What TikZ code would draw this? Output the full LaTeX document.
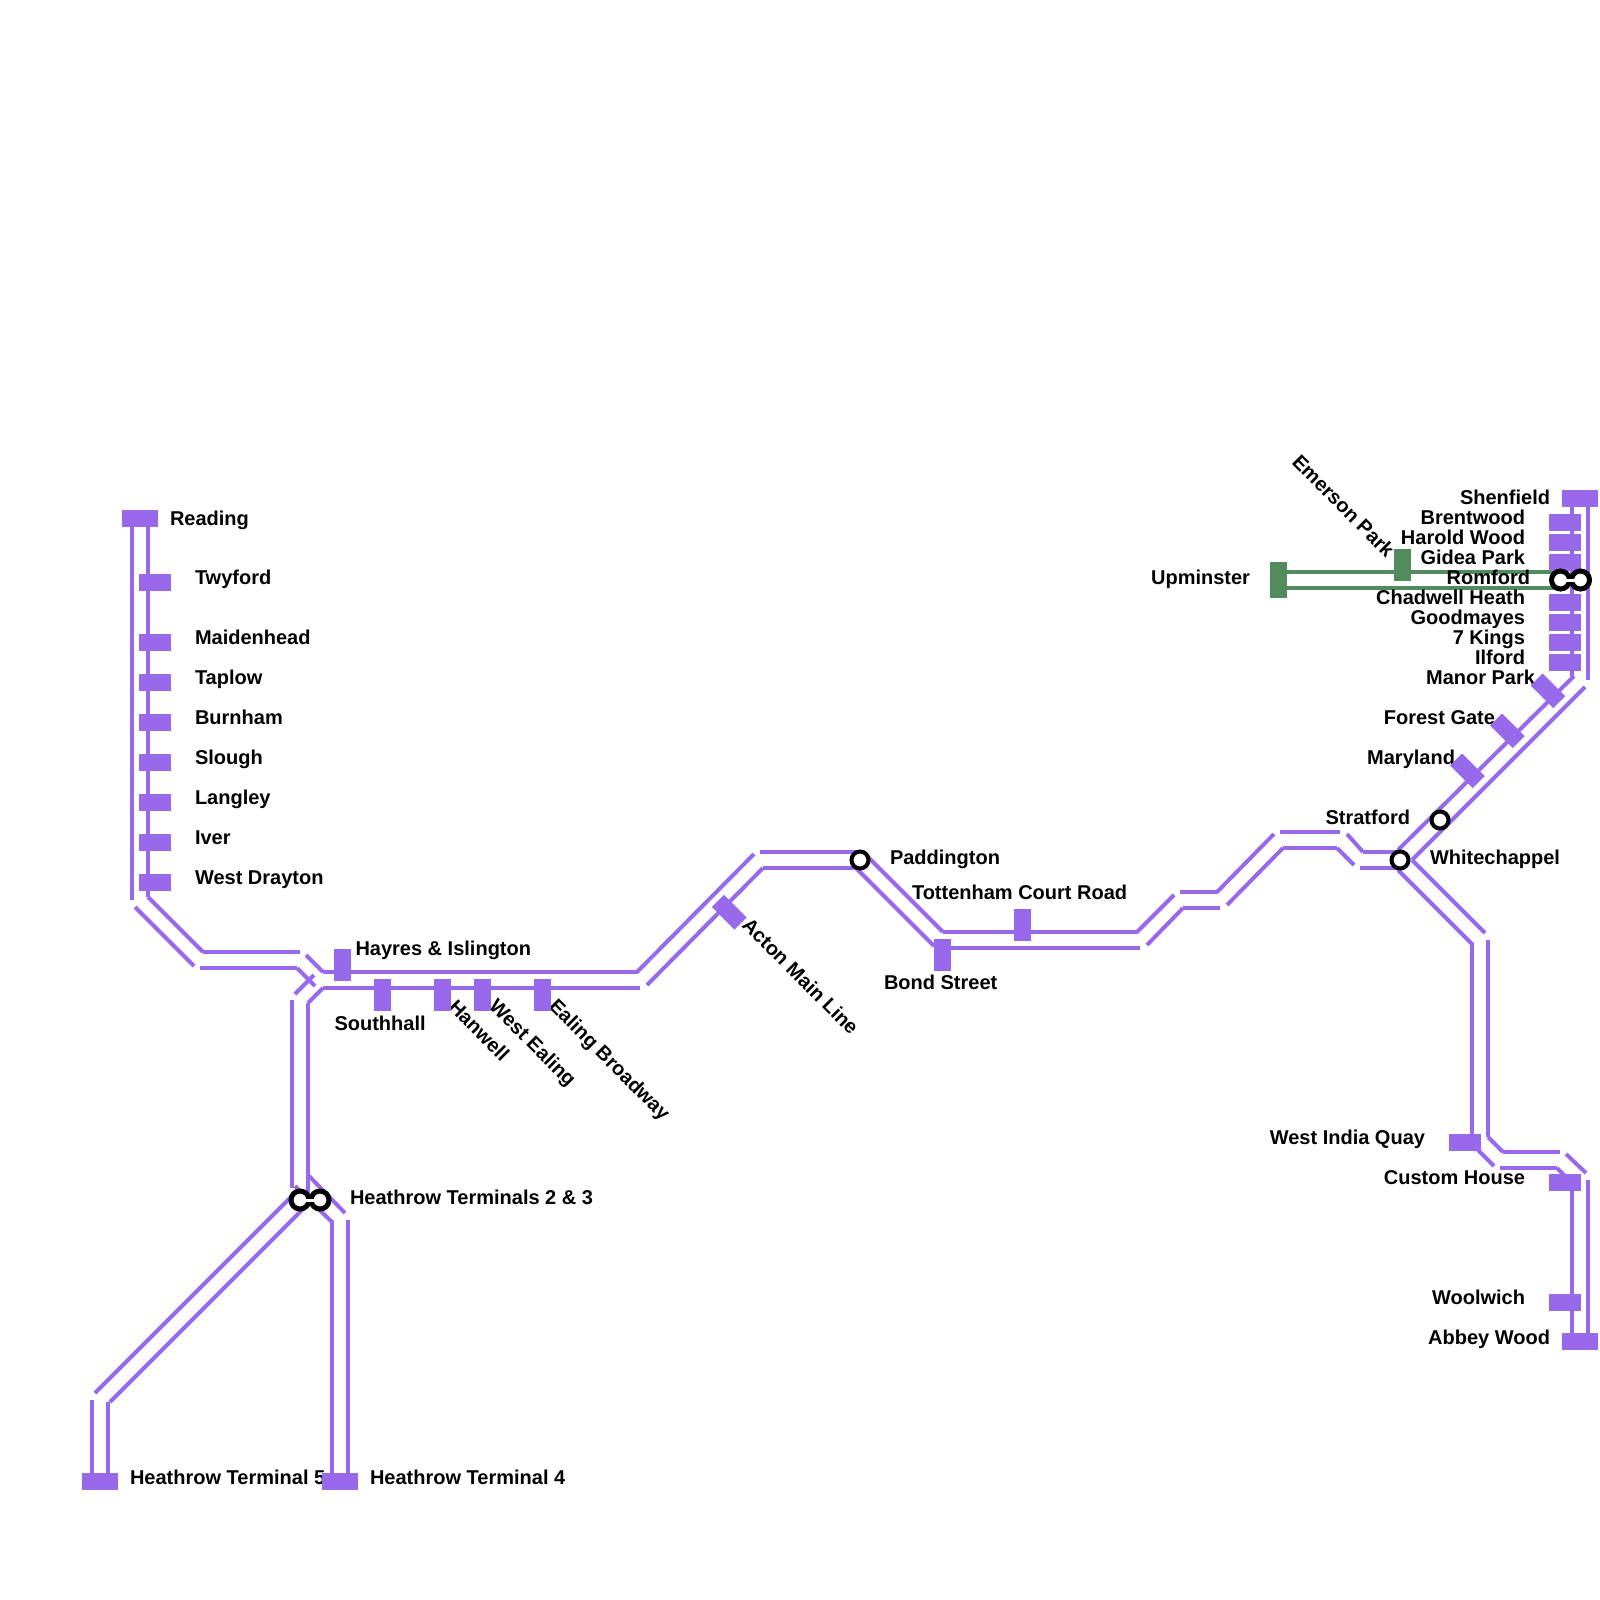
\documentclass[tikz,border=0pt]{standalone}
\usepackage{fontspec}
\setmainfont{Liberation Sans}
\definecolor{lilac}{RGB}{153,105,236}
\definecolor{moss}{RGB}{82,139,93}
\tikzset{
  track/.style={draw=lilac,line width=4pt},
  greentrack/.style={draw=moss,line width=4pt},
  hstn/.style={rectangle,fill=lilac,minimum width=32pt,minimum height=17pt,inner sep=0pt,outer sep=0pt},
  wstn/.style={rectangle,fill=lilac,minimum width=36pt,minimum height=17pt,inner sep=0pt,outer sep=0pt},
  vstn/.style={rectangle,fill=lilac,minimum width=17pt,minimum height=32pt,inner sep=0pt,outer sep=0pt},
  dstn/.style={hstn,rotate=-45},
  gstn/.style={rectangle,fill=moss,minimum width=17pt,inner sep=0pt,outer sep=0pt},
  hub/.style={circle,draw=black,fill=white,line width=4pt,minimum size=17pt,inner sep=0pt,outer sep=0pt},
  dualhub/.style={circle,draw=black,fill=white,line width=5pt,minimum size=18pt,inner sep=0pt,outer sep=0pt},
  lab/.style={inner sep=0pt,outer sep=0pt,yshift=0.5pt,font=\fontsize{20}{24}\selectfont\bfseries,text=black},
  labl/.style={lab,anchor=base west},
  labr/.style={lab,anchor=base east},
  labd/.style={lab,anchor=base west,rotate=-45},
}
\begin{document}
\begin{tikzpicture}[x=1pt,y=-1pt]
\useasboundingbox (0,0) rectangle (1600,1600);
\fill[white] (0,0) rectangle (1600,1600);
% named track ends
\foreach \n/\x/\y in {
 a1/132/527,a2/132/900,b1/148/527,b2/148/897,
 c1/135/907,c2/194/966,d1/148/897,d2/203/952,
 e1/203/952,e2/300/952,f1/200/968,f2/297/968,
 g1/306/955,g2/323/972,h1/297/968,h2/315/986,
 i1/295/994,i2/314/975,j1/308/1003,j2/323/988,
 k1/323/972,k2/638/972,l1/323/988,l2/640/988,
 m1/292/1000,m2/292/1188,n1/308/1003,n2/308/1207,
 o1/637/972,o2/754/854,p1/647/985,p2/763/868,
 q1/760/852,q2/860/852,r1/763/868,r2/860/868,
 s1/862/851,s2/943/932,t1/856/868,t2/934/946,
 u1/943/932,u2/1138/932,v1/943/948,v2/1140/948,
 w1/1137/932,w2/1174/895,x1/1147/945,x2/1183/908,
 y1/1180/892,y2/1218/892,z1/1183/908,z2/1220/908,
 aa1/1217/892,aa2/1274/834,ab1/1227/905,ab2/1283/848,
 ac1/1280/832,ac2/1340/832,ad1/1283/848,ad2/1337/848,
 ae1/1347/834,ae2/1363/852,af1/1337/848,af2/1354/865,
 ag1/1363/852,ag2/1400/852,ah1/1360/868,ah2/1400/868,
 ai1/1398/850,ai2/1574/676,aj1/1412/860,aj2/1585/687,
 ak1/1412/860,ak2/1485/933,al1/1398/870,al2/1473/945,
 am1/1472/943,am2/1472/1140,an1/1488/940,an2/1488/1137,
 ao1/1488/1137,ao2/1503/1152,ap1/1478/1150,ap2/1494/1166,
 aq1/1503/1152,aq2/1560/1152,ar1/1500/1168,ar2/1557/1168,
 as1/1566/1154,as2/1586/1173,at1/1557/1168,at2/1566/1177,
 au1/1572/1175,au2/1572/1340,av1/1588/1180,av2/1588/1340,
 aw1/1572/505,aw2/1572/677,ax1/1588/505,ax2/1588/680,
 ay1/309/1176,ay2/345/1213,az1/295/1186,az2/333/1223,
 ba1/332/1223,ba2/332/1480,bb1/348/1220,bb2/348/1480,
 bc1/95/1393,bc2/298/1190,bd1/110/1402,bd2/310/1202,
 be1/92/1400,be2/92/1480,bf1/108/1402,bf2/108/1480}
 {\coordinate (\n) at (\x,\y);}
\foreach \s in {a,b,c,d,e,f,g,h,i,j,k,l,m,n,o,p,q,r,s,t,u,v,w,x,y,z,
 aa,ab,ac,ad,ae,af,ag,ah,ai,aj,ak,al,am,an,ao,ap,aq,ar,as,at,au,av,aw,ax,ay,az,ba,bb,bc,bd,be,bf}
 {\draw[track] (\s1) -- (\s2);}
% green line
\node[gstn,minimum height=36pt] (upm) at (1278.5,580) {};
\node[gstn,minimum height=32pt] (eme) at (1402.5,565) {};
\coordinate (ge1) at (1287,572); \coordinate (ge2) at (1560,572);
\coordinate (gf1) at (1287,588); \coordinate (gf2) at (1560,588);
\draw[greentrack] (ge1) -- (ge2);
\draw[greentrack] (gf1) -- (gf2);
% labels
\node[labl] (lReading) at (170,525.5) {Reading};
\node[labl] (lTwyford) at (195,585) {Twyford};
\node[labl] (lMaid) at (195,645) {Maidenhead};
\node[labl] (lTap) at (195,685) {Taplow};
\node[labl] (lBur) at (195,725) {Burnham};
\node[labl] (lSlo) at (195,765) {Slough};
\node[labl] (lLan) at (195,805) {Langley};
\node[labl] (lIve) at (195,845) {Iver};
\node[labl] (lWD) at (195,885) {West Drayton};
\node[labl] (lHay) at (355.5,956) {Hayres \& Islington};
\node[labl] (lSou) at (334.5,1031) {Southhall};
\node[labd] (lHan) at (447.5,1009) {Hanwell};
\node[labd] (lWE) at (488,1008) {West Ealing};
\node[labd] (lEB) at (548,1008) {Ealing Broadway};
\node[labd] (lAct) at (741,927) {Acton Main Line};
\node[labl] (lPad) at (890,865) {Paddington};
\node[labl] (lTCR) at (912,900) {Tottenham Court Road};
\node[labl] (lBon) at (884,990) {Bond Street};
\node[labl] (lH23) at (350,1205) {Heathrow Terminals 2 \& 3};
\node[labl] (lH5) at (130,1485) {Heathrow Terminal 5};
\node[labl] (lH4) at (370,1485) {Heathrow Terminal 4};
\node[labr] (lShe) at (1550,505) {Shenfield};
\node[labr] (lBre) at (1525,525) {Brentwood};
\node[labr] (lHar) at (1525,545) {Harold Wood};
\node[labr] (lGid) at (1525,565) {Gidea Park};
\node[labr] (lRom) at (1530,585) {Romford};
\node[labr] (lCha) at (1525,605) {Chadwell Heath};
\node[labr] (lGoo) at (1525,625) {Goodmayes};
\node[labr] (lKin) at (1525,645) {7 Kings};
\node[labr] (lIlf) at (1525,665) {Ilford};
\node[labr] (lMan) at (1535,685) {Manor Park};
\node[labr] (lFor) at (1495,725) {Forest Gate};
\node[labr] (lMar) at (1455,765) {Maryland};
\node[labr] (lStr) at (1410,825) {Stratford};
\node[labl] (lWhi) at (1430,865) {Whitechappel};
\node[labr] (lUpm) at (1250,585) {Upminster};
\node[labd] (lEme) at (1291,464) {Emerson Park};
\node[labr] (lWIQ) at (1425,1145) {West India Quay};
\node[labr] (lCus) at (1525,1185) {Custom House};
\node[labr] (lWoo) at (1525,1305) {Woolwich};
\node[labr] (lAbb) at (1550,1345) {Abbey Wood};
% stations
\node[wstn] (sRea) at (140,518.5) {};
\foreach \n/\y in {Twy/582.5,Mai/642.5,Tap/682.5,Bur/722.5,Slo/762.5,Lan/802.5,Ive/842.5,Dra/882.5}
 {\node[hstn] (s\n) at (155,\y) {};}
\node[vstn] (sHay) at (342.5,965) {};
\foreach \n/\x in {Sou/382.5,Han/442.5,Wea/482.5,Eal/542.5}
 {\node[vstn] (s\n) at (\x,995) {};}
\node[dstn] (sAct) at (729.3,912.3) {};
\node[vstn] (sBon) at (942.5,955) {};
\node[vstn] (sTot) at (1022.5,925) {};
\node[wstn] (sShe) at (1580,498.5) {};
\foreach \n/\y in {Bre/522.5,Har/542.5,Gid/562.5,Cha/602.5,Goo/622.5,Kin/642.5,Ilf/662.5}
 {\node[hstn] (s\n) at (1565,\y) {};}
\node[dstn] (sMan) at (1548,690.8) {};
\node[dstn] (sFor) at (1507.5,730.8) {};
\node[dstn] (sMay) at (1467.5,770.8) {};
\node[hstn] (sWIQ) at (1465,1142.5) {};
\node[hstn] (sCus) at (1565,1182.5) {};
\node[hstn] (sWoo) at (1565,1302.5) {};
\node[wstn] (sAbb) at (1580,1341.5) {};
\node[wstn] (sH5) at (100,1481.5) {};
\node[wstn] (sH4) at (340,1481.5) {};
% hubs
\node[hub] (pad) at (860,860) {};
\node[hub] (stra) at (1440,820) {};
\node[hub] (whi) at (1400,860) {};
\coordinate (ra) at (1560.5,580); \coordinate (rb) at (1580.5,580);
\coordinate (ta) at (300,1200); \coordinate (tb) at (320,1200);
\foreach \p/\q in {ra/rb,ta/tb}{
 \draw[black,line width=11pt] (\p) -- (\q);
 \node[dualhub] (\p c) at (\p) {};
 \node[dualhub] (\q c) at (\q) {};
 \draw[white,line width=3pt] (\p) -- (\q);
}
\end{tikzpicture}
\end{document}
